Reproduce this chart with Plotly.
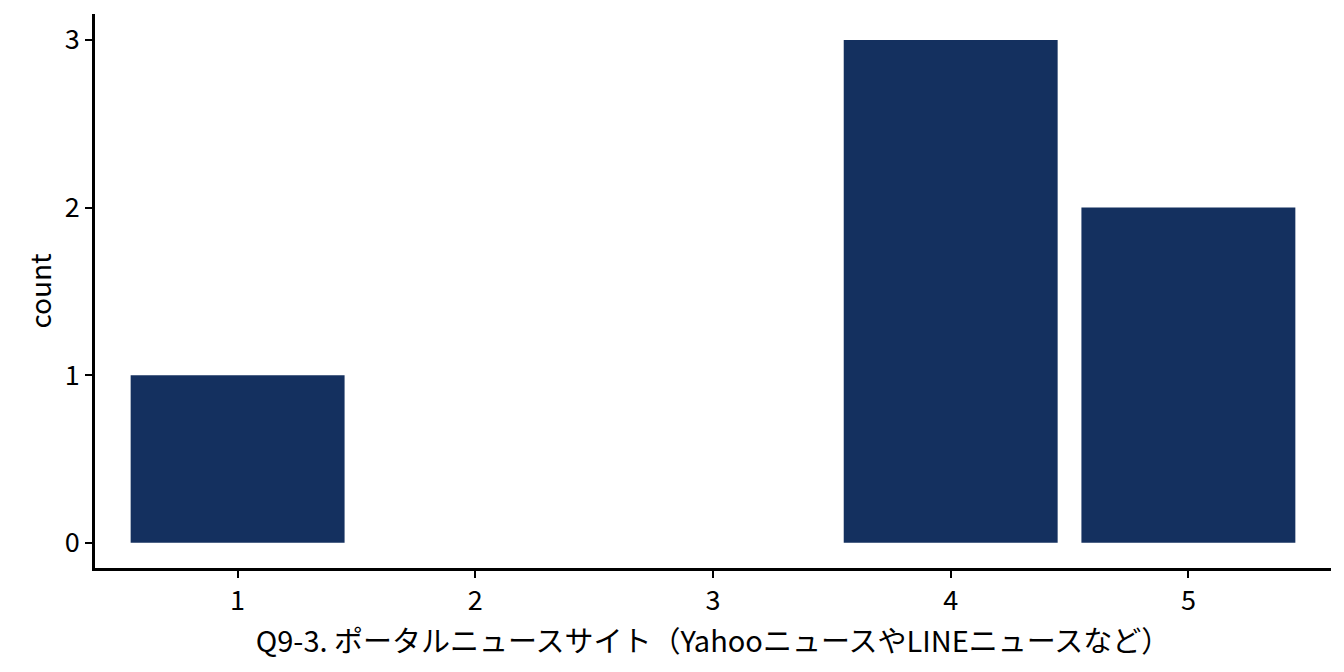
import plotly.graph_objects as go

# 回答値と件数
answers = [1, 4, 5]
counts = [1, 3, 2]
x_ticks = [1, 2, 3, 4, 5]
y_ticks = [0, 1, 2, 3]
x_title = "Q9-3. ポータルニュースサイト（YahooニュースやLINEニュースなど）"
y_title = "count"

font_family = "Noto Sans CJK JP, Noto Sans, sans-serif"

fig = go.Figure()

fig.add_trace(go.Bar(
    x=answers,
    y=counts,
    width=0.9,
    marker=dict(color="#14305F", line=dict(width=0)),
    showlegend=False,
))

# ページ本体の余白(8px)を見込んだマージン
fig.update_layout(
    width=1344,
    height=672,
    plot_bgcolor="white",
    paper_bgcolor="white",
    margin=dict(l=87, r=21, t=6, b=112),
    font=dict(family=font_family, color="black"),
)

axis_style = dict(
    showline=True,
    linecolor="black",
    linewidth=2.5,
    showgrid=False,
    zeroline=False,
    ticks="outside",
    ticklen=7,
    tickwidth=2,
    tickcolor="black",
    tickfont=dict(size=27, color="black"),
)

fig.update_xaxes(
    range=[0.4, 5.6],
    tickvals=x_ticks,
    title=dict(text=x_title, font=dict(size=29), standoff=8),
    **axis_style,
)
fig.update_yaxes(
    range=[-0.15, 3.155],
    tickvals=y_ticks,
    title=dict(text=y_title, font=dict(size=28), standoff=6),
    **axis_style,
)

fig.write_html("out.html")
